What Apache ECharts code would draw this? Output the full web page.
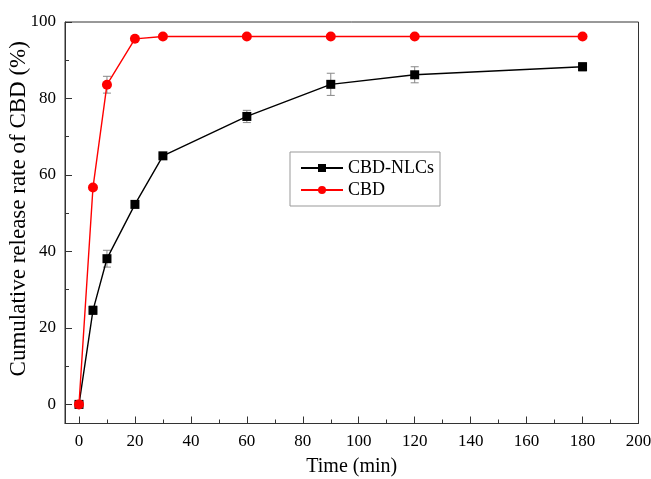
<!DOCTYPE html>
<html>
<head>
<meta charset="utf-8">
<script src="https://cdn.jsdelivr.net/npm/echarts@6/dist/echarts.min.js"></script>
<style>html,body{margin:0;padding:0;background:#fff}#c{width:651px;height:479px}</style>
</head>
<body>
<div id="c"></div>
<script>
const times = [0, 5, 10, 20, 30, 60, 90, 120, 180];
const nlcs = [0, 24.6, 38.1, 52.3, 65.0, 75.3, 83.7, 86.2, 88.3];
const nlcsErr = [0, 1.1, 2.2, 0.9, 0.5, 1.6, 2.9, 2.1, 1.1];
const cbd = [0, 56.7, 83.6, 95.6, 96.2, 96.2, 96.2, 96.2, 96.2];
const cbdErr = [0, 0.4, 2.2, 0.4, 0.3, 0.3, 0.3, 0.3, 0.3];
const xMajor = [0, 20, 40, 60, 80, 100, 120, 140, 160, 180, 200];
const xMinor = [10, 30, 50, 70, 90, 110, 130, 150, 170, 190];
const yMajor = [0, 20, 40, 60, 80, 100];
const yMinor = [10, 30, 50, 70, 90];

const font = '"Liberation Serif", "Times New Roman", serif';
const axisColor = '#333';

function errData(vals, errs) {
  return times.map((t, i) => [t, vals[i] - errs[i], vals[i] + errs[i]]);
}
function errRender(params, api) {
  const x = api.value(0);
  const lo = api.coord([x, api.value(1)]);
  const hi = api.coord([x, api.value(2)]);
  const w = 4;
  const st = { stroke: '#888', lineWidth: 1 };
  return {
    type: 'group',
    children: [
      { type: 'line', shape: { x1: lo[0], y1: lo[1], x2: hi[0], y2: hi[1] }, style: st },
      { type: 'line', shape: { x1: lo[0] - w, y1: lo[1], x2: lo[0] + w, y2: lo[1] }, style: st },
      { type: 'line', shape: { x1: hi[0] - w, y1: hi[1], x2: hi[0] + w, y2: hi[1] }, style: st }
    ]
  };
}

const chart = echarts.init(document.getElementById('c'), null, { renderer: 'canvas' });
chart.setOption({
  animation: false,
  backgroundColor: '#fff',
  textStyle: { fontFamily: font, color: '#000' },
  grid: { left: 65, right: 12.5, top: 22, bottom: 55.5, containLabel: false, outerBoundsMode: 'none', show: true, borderColor: axisColor, borderWidth: 1, backgroundColor: 'transparent' },
  legend: {
    orient: 'vertical', left: 290, top: 152,
    padding: [7, 6, 7, 10],
    itemWidth: 42, itemHeight: 10, itemGap: 4,
    borderColor: '#999', borderWidth: 1,
    textStyle: { fontFamily: font, fontSize: 18, color: '#000' },
    data: ['CBD-NLCs', 'CBD']
  },
  xAxis: [
    {
      type: 'value', min: -5, max: 200,
      name: 'Time (min)', nameLocation: 'middle', nameGap: 33, nameMoveOverlap: false,
      nameTextStyle: { fontFamily: font, fontSize: 20, color: '#000' },
      axisLine: { onZero: false, lineStyle: { color: axisColor, width: 1 } },
      axisTick: { inside: true, length: 7, customValues: xMajor, lineStyle: { color: axisColor } },
      axisLabel: { customValues: xMajor, fontFamily: font, fontSize: 17, color: '#000', margin: 10 },
      splitLine: { show: false }
    },
    {
      type: 'value', min: -5, max: 200, position: 'bottom',
      axisLine: { show: false, onZero: false },
      axisTick: { inside: true, length: 4, customValues: xMinor, lineStyle: { color: axisColor } },
      axisLabel: { show: false, customValues: xMinor },
      splitLine: { show: false }
    }
  ],
  yAxis: [
    {
      type: 'value', min: -5, max: 100,
      name: 'Cumulative release rate of CBD (%)', nameLocation: 'middle', nameGap: 35, nameMoveOverlap: false,
      nameTextStyle: { fontFamily: font, fontSize: 23, color: '#000', padding: [0, 0, 0, 28] },
      axisLine: { show: true, onZero: false, lineStyle: { color: axisColor, width: 1 } },
      axisTick: { show: true, inside: true, length: 7, customValues: yMajor, lineStyle: { color: axisColor } },
      axisLabel: { customValues: yMajor, fontFamily: font, fontSize: 17, color: '#000', margin: 9 },
      splitLine: { show: false }
    },
    {
      type: 'value', min: -5, max: 100, position: 'left',
      axisLine: { show: false, onZero: false },
      axisTick: { show: true, inside: true, length: 4, customValues: yMinor, lineStyle: { color: axisColor } },
      axisLabel: { show: false, customValues: yMinor },
      splitLine: { show: false }
    }
  ],
  series: [
    {
      name: 'nlcsErr', type: 'custom', renderItem: errRender, z: 1,
      data: errData(nlcs, nlcsErr), encode: { x: 0, y: [1, 2] }
    },
    {
      name: 'cbdErr', type: 'custom', renderItem: errRender, z: 1,
      data: errData(cbd, cbdErr), encode: { x: 0, y: [1, 2] }
    },
    {
      name: 'CBD-NLCs', type: 'line', z: 3,
      data: times.map((t, i) => [t, nlcs[i]]),
      symbol: 'rect', symbolSize: 9,
      lineStyle: { color: '#000', width: 1.4 },
      itemStyle: { color: '#000' }
    },
    {
      name: 'CBD', type: 'line', z: 4,
      data: times.map((t, i) => [t, cbd[i]]),
      symbol: 'circle', symbolSize: 10,
      lineStyle: { color: '#ff0000', width: 1.4 },
      itemStyle: { color: '#ff0000' }
    }
  ]
});
</script>
</body>
</html>
